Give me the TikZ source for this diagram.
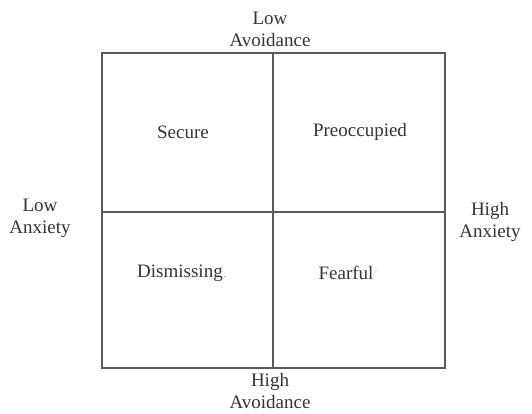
\documentclass[tikz,border=0pt]{standalone}
\usepackage{fontspec}
\setmainfont{Liberation Serif}
\begin{document}
\begin{tikzpicture}[x=1pt,y=-1pt,
  grid/.style={draw=black!65,line width=1.6pt},
  lbl/.style={text=black!80,font=\fontsize{19}{22}\selectfont,align=center,inner sep=0pt},
  dotmark/.style={text=black!50,font=\fontsize{10}{10}\selectfont,inner sep=0pt}]
\useasboundingbox (0,0) rectangle (532,414);
\coordinate (tl) at (102,53);
\coordinate (br) at (445,368);
\coordinate (tm) at (273,53);
\coordinate (bm) at (273,368);
\coordinate (lm) at (102,212);
\coordinate (rm) at (445,212);
\draw[grid] (tl) rectangle (br);
\draw[grid] (tm) -- (bm);
\draw[grid] (lm) -- (rm);
\node[lbl] (top) at (270,29) {Low\\Avoidance};
\node[lbl] (bottom) at (270,391) {High\\Avoidance};
\node[lbl] (left) at (40,218) {Low\\Anxiety};
\node[lbl] (right) at (490,222) {High\\Anxiety};
\node[lbl] (secure) at (183,132) {Secure};
\node[lbl] (preocc) at (360,132) {Preoccupied};
\node[lbl] (dismiss) at (180,273) {Dismissing};
\node[lbl] (fearful) at (346,273) {Fearful};
\node[dotmark,anchor=base west] (d1) at ([xshift=0.5pt]dismiss.base east) {.};
\node[dotmark,anchor=west] (d2) at ([xshift=0.5pt]fearful.east) {\textperiodcentered};
\end{tikzpicture}
\end{document}
